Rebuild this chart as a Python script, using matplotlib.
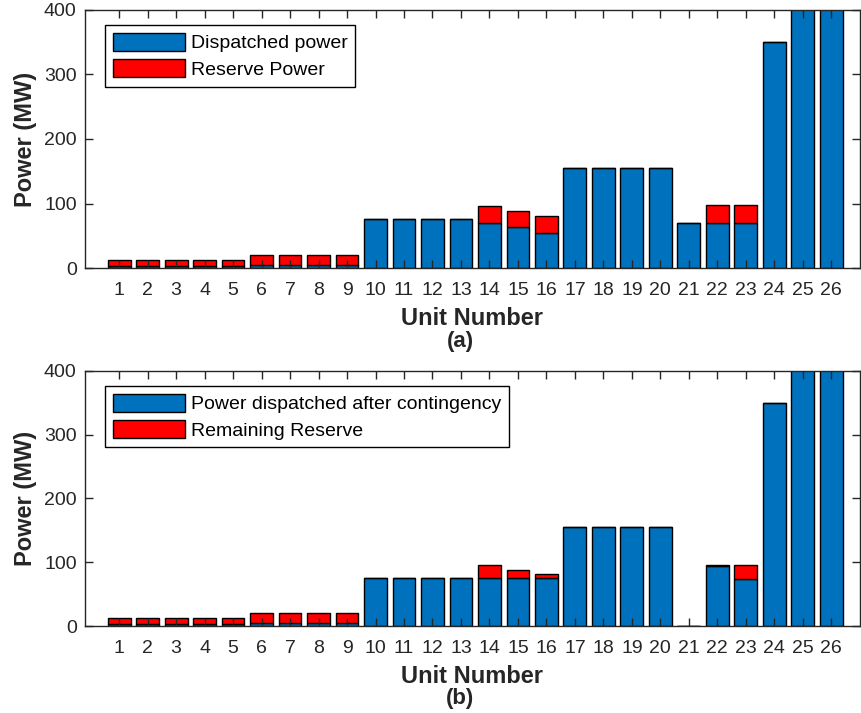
import numpy as np
import matplotlib
matplotlib.use('Agg')
import matplotlib.pyplot as plt

plt.rcParams['font.family'] = ['Liberation Sans', 'DejaVu Sans']

# unit numbers
units = list(range(1, 27))

# (a) dispatched power and reserve before contingency (MW)
dispatched_a = [2.4, 2.4, 2.4, 2.4, 2.4, 4, 4, 4, 4, 76, 76, 76, 76,
                70, 63, 55, 155, 155, 155, 155, 70, 70, 70, 350, 455, 455]
reserve_a = [9.6, 9.6, 9.6, 9.6, 9.6, 16, 16, 16, 16, 0, 0, 0, 0,
             26, 25, 26, 0, 0, 0, 0, 0, 27, 27, 0, 0, 0]

# (b) after contingency
dispatched_b = [2.4, 2.4, 2.4, 2.4, 2.4, 4, 4, 4, 4, 76, 76, 76, 76,
                76, 76, 76, 155, 155, 155, 155, 0, 94, 73, 350, 455, 455]
reserve_b = [9.6, 9.6, 9.6, 9.6, 9.6, 16, 16, 16, 16, 0, 0, 0, 0,
             20, 12, 5, 0, 0, 0, 0, 0, 2, 23, 0, 0, 0]

labels_a = ['Dispatched power', 'Reserve Power']
labels_b = ['Power dispatched after contingency', 'Remaining Reserve']

blue = '#0072BD'
red = '#FF0000'
dark = '#262626'

fig = plt.figure(figsize=(8.61, 7.13), dpi=100)
ax1 = fig.add_axes([0.0987, 0.6241, 0.8998, 0.3619])
ax2 = fig.add_axes([0.0987, 0.1220, 0.8998, 0.3577])


def panel(ax, disp, res, labels, tag):
    d = np.array(disp)
    r = np.array(res)
    ax.bar(units, d, width=0.8, color=blue, edgecolor='black', linewidth=1, label=labels[0])
    ax.bar(units, r, width=0.8, bottom=d, color=red, edgecolor='black', linewidth=1, label=labels[1])
    ax.set_xlim(-0.2, 27)
    ax.set_ylim(0, 400)
    ax.set_xticks(units)
    ax.set_yticks([0, 100, 200, 300, 400])
    ax.tick_params(direction='in', length=6, width=1, color=dark, labelcolor=dark,
                   labelsize=14, top=True, right=True)
    ax.tick_params(axis='x', pad=10)
    ax.tick_params(axis='y', pad=6)
    for s in ax.spines.values():
        s.set_color(dark)
        s.set_linewidth(1)
    ax.set_xlabel('Unit Number', fontsize=17, fontweight='bold', color=dark, labelpad=6)
    ax.set_ylabel('Power (MW)', fontsize=17, fontweight='bold', color=dark, labelpad=5)
    ax.text(0.484, -0.285, tag, transform=ax.transAxes, ha='center', va='center',
            fontsize=16, fontweight='bold', color=dark)
    leg = ax.legend(loc='upper left', bbox_to_anchor=(0.026, 0.942), borderaxespad=0,
                    fontsize=14, fancybox=False, edgecolor='black', framealpha=1,
                    handlelength=3.7, handleheight=1.05, labelspacing=0.35,
                    handletextpad=0.3, borderpad=0.4)
    leg.get_frame().set_linewidth(1)


panel(ax1, dispatched_a, reserve_a, labels_a, '(a)')
panel(ax2, dispatched_b, reserve_b, labels_b, '(b)')

fig.savefig('out.png', dpi=100)
